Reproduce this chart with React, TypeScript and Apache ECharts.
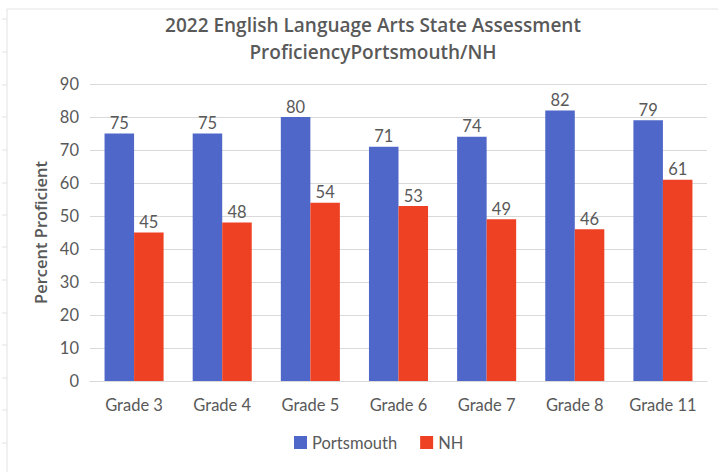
import React, { useEffect, useRef } from "react";
import * as echarts from "echarts";

const categories = ["Grade 3", "Grade 4", "Grade 5", "Grade 6", "Grade 7", "Grade 8", "Grade 11"];
const portsmouth = [75, 75, 80, 71, 74, 82, 79];
const nh = [45, 48, 54, 53, 49, 46, 61];
const titleLines = ["2022 English Language Arts State Assessment", "ProficiencyPortsmouth/NH"];
const yAxisTitle = "Percent Proficient";
const edgeTickYs = [19, 52, 85, 117, 150, 183, 215, 247, 280, 313, 345, 378, 410, 443];

const FONT = "Lato";
const TITLE_FONT = "Open Sans";
const TEXT = "#595959";
const FS = 16.5;

export default function App() {
  const ref = useRef<HTMLDivElement>(null);
  useEffect(() => {
    if (!ref.current) return;
    const chart = echarts.init(ref.current, undefined, { renderer: "svg" });
    const graphics: any[] = [
      { type: "line", shape: { x1: 7, y1: 9, x2: 718, y2: 9 }, style: { stroke: "#e3e3e3", lineWidth: 1 } },
      { type: "line", shape: { x1: 7, y1: 9, x2: 7, y2: 472 }, style: { stroke: "#e3e3e3", lineWidth: 1 } },
      ...edgeTickYs.map((y) => ({
        type: "line",
        shape: { x1: 2, y1: y, x2: 7, y2: y },
        style: { stroke: "#e3e3e3", lineWidth: 1 },
      })),
    ];
    chart.setOption({
      animation: false,
      backgroundColor: "#ffffff",
      textStyle: { fontFamily: FONT },
      title: {
        text: titleLines.join("\n"),
        left: 368,
        top: 6,
        textAlign: "center",
        textStyle: { fontFamily: TITLE_FONT, fontSize: 19, fontWeight: 600, color: TEXT, lineHeight: 27 },
      },
      graphic: graphics,
      legend: {
        data: ["Portsmouth", "NH"],
        top: 434,
        left: 294,
        padding: 0,
        itemWidth: 13,
        itemHeight: 13,
        itemGap: 23,
        icon: "rect",
        textStyle: { fontFamily: FONT, fontSize: FS, color: TEXT },
      },
      grid: { left: 90, right: 11, top: 84, bottom: 91 },
      xAxis: {
        type: "category",
        data: categories,
        axisLine: { lineStyle: { color: "#d9d9d9" } },
        axisTick: { show: false },
        axisLabel: { fontFamily: FONT, fontSize: FS, color: TEXT, margin: 15 },
      },
      yAxis: {
        type: "value",
        min: 0,
        max: 90,
        interval: 10,
        name: yAxisTitle,
        nameLocation: "middle",
        nameGap: 38,
        nameTextStyle: { fontFamily: TITLE_FONT, fontSize: FS, fontWeight: 600, color: TEXT },
        axisLine: { show: false },
        axisTick: { show: false },
        axisLabel: { fontFamily: FONT, fontSize: FS, color: TEXT, margin: 11 },
        splitLine: { lineStyle: { color: "#d9d9d9" } },
      },
      series: [
        {
          name: "Portsmouth",
          type: "bar",
          data: portsmouth,
          barGap: "0%",
          barCategoryGap: "33%",
          itemStyle: { color: "#4F67C8" },
          label: { show: true, position: "top", distance: 2, fontFamily: FONT, fontSize: FS, color: TEXT },
        },
        {
          name: "NH",
          type: "bar",
          data: nh,
          barGap: "0%",
          barCategoryGap: "33%",
          itemStyle: { color: "#EE4123" },
          label: { show: true, position: "top", distance: 2, fontFamily: FONT, fontSize: FS, color: TEXT },
        },
      ],
    });
    return () => chart.dispose();
  }, []);
  return <div ref={ref} style={{ width: 718, height: 472, position: "absolute", left: 0, top: 0 }} />;
}
